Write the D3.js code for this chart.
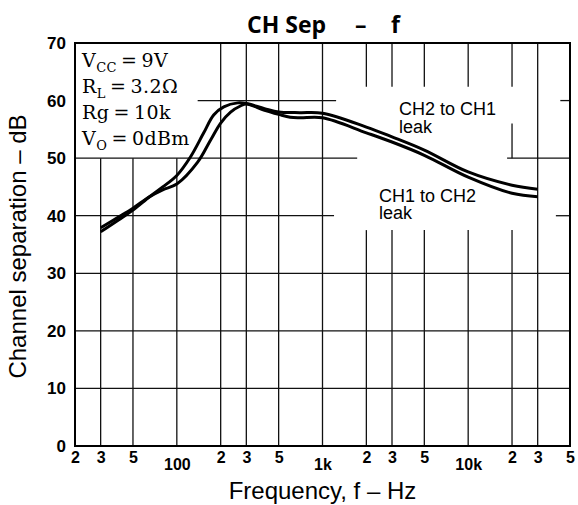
<!DOCTYPE html>
<html>
<head>
<meta charset="utf-8">
<script src="https://cdn.jsdelivr.net/npm/d3@7"></script>
<style>
	body { margin: 0; background: #fff; }
</style>
</head>
<body>
<svg id="chart" width="578" height="505"></svg>
<script>
// --- data --- \\
var freqCH2toCH1 = [30, 40, 50, 65, 80, 100, 124, 153, 179, 210, 262, 300, 400, 500, 700, 1000, 2000, 3000, 5000, 10000, 20000, 30000];
var sepCH2toCH1  = [37.2, 39.3, 41.0, 43.3, 45.0, 47.0, 50.2, 54.4, 57.5, 58.9, 59.6, 59.5, 58.6, 58.0, 57.9, 57.8, 55.4, 53.7, 51.4, 47.6, 45.3, 44.6];

var freqCH1toCH2 = [30, 40, 50, 65, 80, 100, 139, 171, 200, 234, 275, 300, 400, 500, 600, 700, 1000, 2000, 3000, 5000, 10000, 20000, 30000];
var sepCH1toCH2  = [37.9, 39.8, 41.3, 43.3, 44.5, 45.5, 49.3, 53.2, 56.1, 58.0, 59.1, 59.4, 58.3, 57.6, 57.1, 57.0, 57.0, 54.4, 52.8, 50.5, 46.7, 43.9, 43.3];

var xTickValues = [20, 30, 50, 100, 200, 300, 500, 1000, 2000, 3000, 5000, 10000, 20000, 30000, 50000];
var xTickLabels = ["2", "3", "5", "100", "2", "3", "5", "1k", "2", "3", "5", "10k", "2", "3", "5"];
var yTickValues = [0, 10, 20, 30, 40, 50, 60, 70];

var conditions = [["V", "CC", "\u2009=\u20099V"], ["R", "L", "\u2009=\u20093.2\u03A9"], ["Rg\u2009=\u200910k", "", ""], ["V", "O", "\u2009=\u20090dBm"]];

var svg = d3.select("#chart")
	, plotL = 75, plotR = 570, plotT = 43, plotB = 446;

var x = d3.scaleLog().domain([20, 50000]).range([plotL, plotR]);
var y = d3.scaleLinear().domain([0, 70]).range([plotB, plotT]);

// --- GRID --- \\
// gridlines are broken where the text sits, gaps in data units
var vGrid = [
	[30, [[0, 50]]], [50, [[0, 50]]], [100, [[0, 50]]]
	, [200, [[0, 70]]], [300, [[0, 70]]], [500, [[0, 70]]], [1000, [[0, 70]]]
	, [2000, [[0, 37.5], [62.4, 70]]], [3000, [[0, 37.5], [62.4, 70]]]
	, [5000, [[0, 37.5], [62.4, 70]]], [10000, [[0, 37.5], [62.4, 70]]]
	, [20000, [[0, 37.5], [50, 56], [62.4, 70]]], [30000, [[0, 70]]]
];
var hGrid = [
	[10, [[20, 50000]]], [20, [[20, 50000]]], [30, [[20, 50000]]]
	, [40, [[20, 1200], [40000, 50000]]]
	, [50, [[20, 1730], [18500, 50000]]]
	, [60, [[139, 1240], [42900, 50000]]]
];

var grid = svg.append("g").attr("stroke", "#111").attr("stroke-width", 1.3);
vGrid.forEach(function(g) {
	g[1].forEach(function(s) {
		grid.append("line")
			.attr("x1", x(g[0])).attr("x2", x(g[0]))
			.attr("y1", y(s[0])).attr("y2", y(s[1]));
	});
});
hGrid.forEach(function(g) {
	g[1].forEach(function(s) {
		grid.append("line")
			.attr("x1", x(s[0])).attr("x2", x(s[1]))
			.attr("y1", y(g[0])).attr("y2", y(g[0]));
	});
});

svg.append("rect")
	.attr("x", plotL).attr("y", plotT)
	.attr("width", plotR - plotL).attr("height", plotB - plotT)
	.attr("fill", "none").attr("stroke", "#000").attr("stroke-width", 2);

// --- AXES --- \\
var yAxis = svg.append("g")
	.attr("transform", "translate(" + plotL + ",0)")
	.call(d3.axisLeft(y).tickValues(yTickValues).tickSize(0).tickPadding(9));
yAxis.select(".domain").remove();
yAxis.selectAll("text")
	.attr("font-family", "Liberation Sans, Arial, sans-serif")
	.attr("font-weight", "bold").attr("font-size", 17).attr("fill", "#000");

var xAxis = svg.append("g")
	.attr("transform", "translate(0," + plotB + ")")
	.call(d3.axisBottom(x).tickValues(xTickValues).tickSize(0).tickPadding(6)
		.tickFormat(function(d, i) { return xTickLabels[i]; }));
xAxis.select(".domain").remove();
xAxis.selectAll("text")
	.attr("font-family", "Liberation Sans, Arial, sans-serif")
	.attr("font-weight", "bold").attr("font-size", 16).attr("fill", "#000")
	.attr("dy", function(d, i) { return xTickLabels[i].length > 1 ? "1.15em" : "0.71em"; });

svg.append("text")
	.attr("transform", "translate(26," + ((plotT + plotB) / 2 + 2) + ") rotate(-90)")
	.attr("text-anchor", "middle")
	.attr("font-family", "Liberation Sans, Arial, sans-serif").attr("font-size", 24)
	.text("Channel separation \u2013 dB");

svg.append("text")
	.attr("x", (plotL + plotR) / 2).attr("y", 499)
	.attr("text-anchor", "middle")
	.attr("font-family", "Liberation Sans, Arial, sans-serif").attr("font-size", 24)
	.text("Frequency, f \u2013 Hz");

// --- TITLE --- \\
var title = svg.append("text")
	.attr("y", 33)
	.attr("font-family", "Open Sans, sans-serif").attr("font-weight", 700).attr("font-size", 23);
title.append("tspan").attr("x", 247).text("CH Sep");
title.append("tspan").attr("x", 355).text("\u2013");
title.append("tspan").attr("x", 391).text("f");

// --- CURVES --- \\
var line = d3.line()
	.x(function(d) { return x(d[0]); })
	.y(function(d) { return y(d[1]); })
	.curve(d3.curveCatmullRom);

[[freqCH2toCH1, sepCH2toCH1], [freqCH1toCH2, sepCH1toCH2]].forEach(function(s) {
	svg.append("path")
		.datum(d3.zip(s[0], s[1]))
		.attr("d", line)
		.attr("fill", "none").attr("stroke", "#000").attr("stroke-width", 3);
});

// --- LABELS --- \\
var lab = svg.append("g")
	.attr("font-family", "Liberation Sans, Arial, sans-serif").attr("font-size", 18);
lab.append("text").attr("x", 399).attr("y", 115).text("CH2 to CH1");
lab.append("text").attr("x", 399).attr("y", 133).text("leak");
lab.append("text").attr("x", 379).attr("y", 202).text("CH1 to CH2");
lab.append("text").attr("x", 379).attr("y", 219).text("leak");

// conditions box, serif
var cond = svg.append("g")
	.attr("font-family", "DejaVu Serif, serif").attr("font-size", 19)
	.attr("letter-spacing", 0.4);
conditions.forEach(function(c, i) {
	var t = cond.append("text").attr("x", 82).attr("y", 67 + i * 26);
	t.append("tspan").text(c[0]);
	if (c[1]) t.append("tspan").attr("font-size", 13).attr("dy", 5).text(c[1]);
	t.append("tspan").attr("dy", c[1] ? -5 : 0).text(c[2]);
});
</script>
</body>
</html>
